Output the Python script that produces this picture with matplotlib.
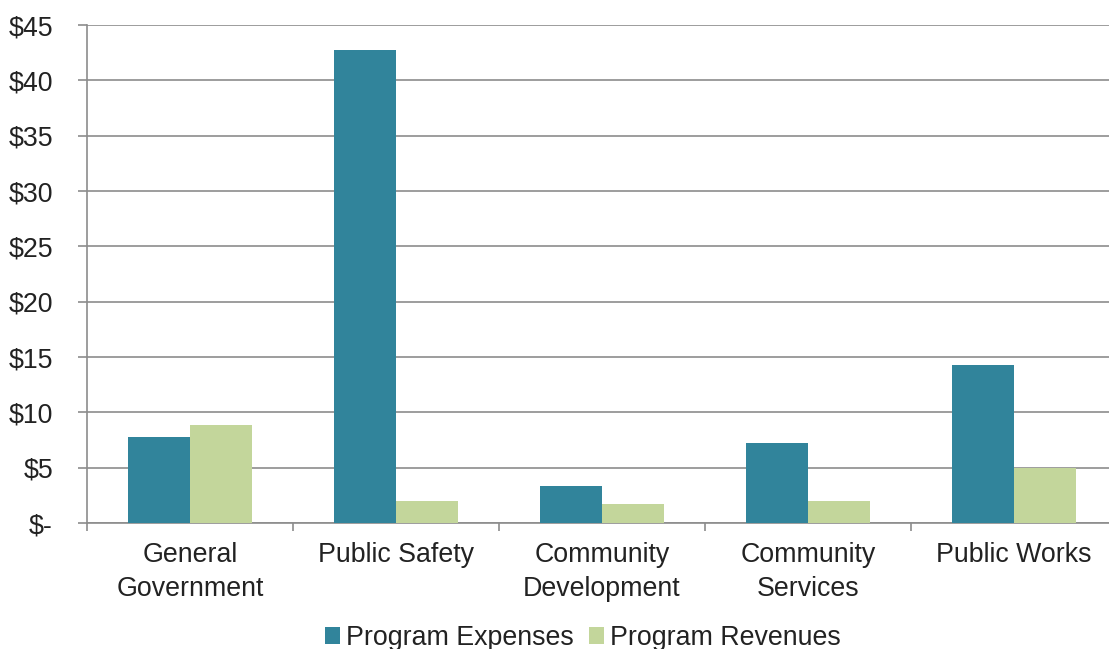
import numpy as np
import matplotlib
matplotlib.use('Agg')
import matplotlib.pyplot as plt
from matplotlib.ticker import FuncFormatter, FixedLocator

# Data (millions of dollars)
categories = ['General\nGovernment', 'Public Safety', 'Community\nDevelopment',
              'Community\nServices', 'Public Works']
expenses = [7.8, 42.75, 3.3, 7.2, 14.3]
revenues = [8.9, 1.95, 1.75, 1.95, 5.0]
series_names = ['Program Expenses', 'Program Revenues']

teal = '#31849B'
green = '#C3D69B'
grid_col = '#8C8C8C'
txt_col = '#222222'
fs = 19.3

plt.rcParams['font.family'] = ['Liberation Sans', 'DejaVu Sans']

fig = plt.figure(figsize=(11.09, 6.49), dpi=100)
ax = fig.add_axes([87 / 1109, 1 - 523 / 649, 1030 / 1109, 498 / 649])

x = np.arange(len(categories))
w = 0.3
ax.bar(x - w / 2, expenses, w, color=teal, label=series_names[0], zorder=3)
ax.bar(x + w / 2, revenues, w, color=green, label=series_names[1], zorder=3)

ax.set_xlim(-0.5, len(categories) - 0.5)
ax.set_ylim(0, 45)
ax.set_yticks(np.arange(0, 46, 5))
ax.yaxis.set_major_formatter(FuncFormatter(lambda v, p: '$-' if v == 0 else f'${v:.0f}'))
ax.grid(axis='y', color=grid_col, linewidth=1.2, zorder=0)

ax.set_xticks(x)
ax.set_xticklabels(categories, fontsize=fs, color=txt_col, linespacing=1.4)
ax.xaxis.set_minor_locator(FixedLocator(np.arange(-0.5, len(categories), 1)))
ax.tick_params(axis='x', which='major', length=0, pad=14)
ax.tick_params(axis='x', which='minor', length=6, color=grid_col, width=1.2, direction='out')
ax.tick_params(axis='y', length=6.5, color=grid_col, width=1.2, pad=18, labelsize=fs,
               labelcolor=txt_col)

for s in ['top', 'right']:
    ax.spines[s].set_visible(False)
for s in ['left', 'bottom']:
    ax.spines[s].set_color(grid_col)
    ax.spines[s].set_linewidth(1.2)

fig.legend(loc='center', bbox_to_anchor=(583 / 1109, 1 - 638 / 649), ncol=2, frameon=False,
           fontsize=fs, handlelength=0.55, handleheight=0.55, handletextpad=0.25,
           columnspacing=0.55, labelcolor=txt_col)

fig.savefig('out.png', dpi=100)
